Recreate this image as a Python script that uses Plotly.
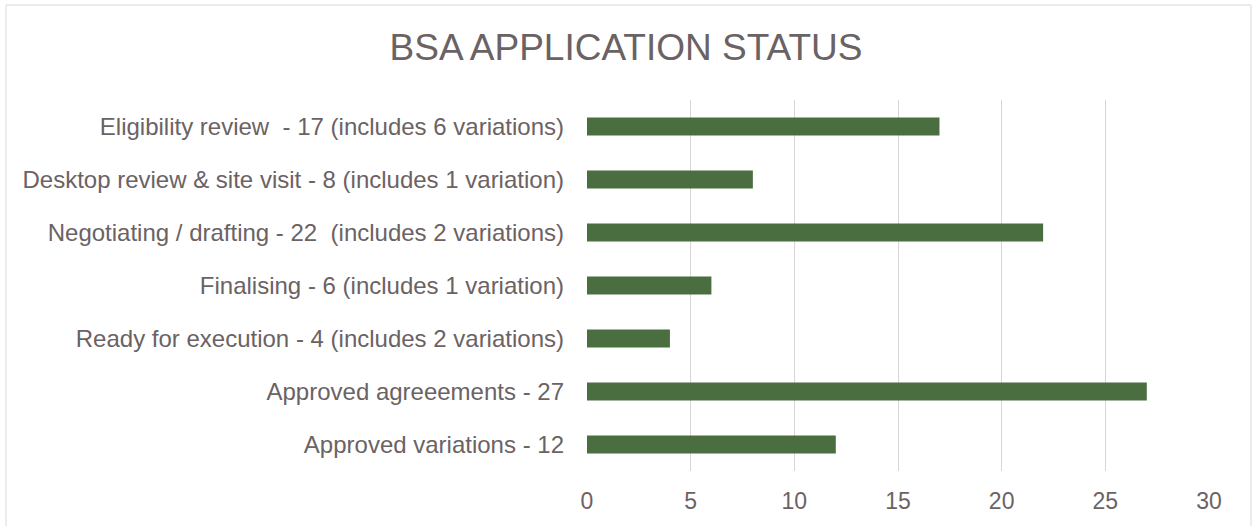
import plotly.graph_objects as go

categories = [
    "Eligibility review  - 17 (includes 6 variations)",
    "Desktop review & site visit - 8 (includes 1 variation)",
    "Negotiating / drafting - 22  (includes 2 variations)",
    "Finalising - 6 (includes 1 variation)",
    "Ready for execution - 4 (includes 2 variations)",
    "Approved agreeements - 27",
    "Approved variations - 12",
]
values = [17, 8, 22, 6, 4, 27, 12]
x_ticks = [0, 5, 10, 15, 20, 25, 30]

text_color = "#6b6264"
font_family = "Arial, Liberation Sans, sans-serif"

fig = go.Figure(go.Bar(
    x=values, y=categories, orientation="h",
    marker=dict(color="#4b6e41", line=dict(width=0)),
    width=0.34,
))

W, H = 1252, 526
ml, mr, mt, mb = 587, 43, 100, 55
pw, ph = W - ml - mr, H - mt - mb

def px_x(p):
    return (p - ml) / pw

def px_y(p):
    return (H - mb - p) / ph

fig.update_layout(
    width=W, height=H,
    margin=dict(l=ml, r=mr, t=mt, b=mb, pad=0),
    paper_bgcolor="white", plot_bgcolor="white",
    showlegend=False,
    title=dict(text="BSA APPLICATION STATUS", x=0.5, xref="container", xanchor="center",
               y=1 - 47 / H, yanchor="middle",
               font=dict(family=font_family, size=37, color=text_color)),
    font=dict(family=font_family, size=24, color=text_color),
    xaxis=dict(range=[0, 30], tickvals=x_ticks, showgrid=True, gridcolor="#dad4d5", gridwidth=1.3,
               zeroline=False, showline=False, ticks="", tickfont=dict(size=23, color=text_color),
               ticklabelstandoff=14),
    yaxis=dict(autorange="reversed", showgrid=False, zeroline=False, showline=False, ticks="",
               ticklabelstandoff=22, tickfont=dict(size=24, color=text_color)),
    shapes=[dict(type="rect", xref="paper", yref="paper",
                 x0=px_x(6), x1=px_x(1251), y0=px_y(540), y1=px_y(5),
                 line=dict(color="#d9d9d9", width=1), fillcolor="rgba(0,0,0,0)", layer="below")],
)

fig.write_html("out.html", config={"displayModeBar": False},
               post_script="document.body.style.margin='0px';document.body.style.overflow='hidden';")
